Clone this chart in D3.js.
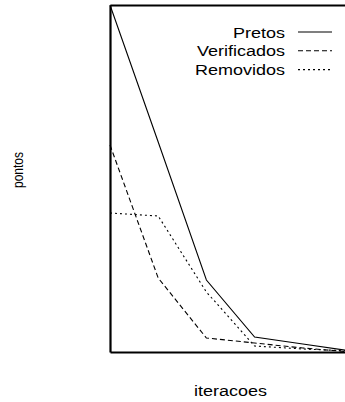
<!DOCTYPE html>
<html>
<head>
<meta charset="utf-8">
<script src="https://cdn.jsdelivr.net/npm/d3@7"></script>
<style>
  html, body { margin: 0; padding: 0; background: #fff; }
  svg { display: block; }
  text { font-family: "Liberation Sans", Arial, Helvetica, sans-serif; fill: #000; }
</style>
</head>
<body>
<svg id="chart" width="345" height="402"></svg>
<script>
const iteracoes = [0, 1, 2, 3, 4, 5];
const pretos = [347, 210, 72, 15, 8, 1];
const verificados = [207, 74, 14, 9, 4, 0];
const removidos = [139, 136, 60, 6, 3, 1];
const seriesNames = ["Pretos", "Verificados", "Removidos"];
const seriesValues = [pretos, verificados, removidos];
const dashes = [null, "5,3", "2,3"];
const yMax = 347;

const svg = d3.select("#chart");
const plotLeft = 110, plotTop = 5, plotRight = 351, plotBottom = 352;

const x = d3.scaleLinear().domain([0, 5]).range([plotLeft, plotRight]);
const y = d3.scaleLinear().domain([0, yMax]).range([plotBottom, plotTop]);

const line = d3.line()
  .x((d, i) => x(iteracoes[i]))
  .y(d => y(d));

seriesValues.forEach((vals, k) => {
  svg.append("path")
    .datum(vals)
    .attr("d", line)
    .attr("fill", "none")
    .attr("stroke", "#000")
    .attr("stroke-width", 1.1)
    .attr("stroke-dasharray", dashes[k]);
});

// border (left, top, bottom; right border lies outside the cropped view)
svg.append("g")
  .attr("transform", `translate(0,${plotBottom})`)
  .call(d3.axisBottom(x).tickValues([]).tickSizeOuter(0))
  .call(g => g.select(".domain").attr("stroke-width", 2));
svg.append("g")
  .attr("transform", `translate(${plotLeft},0)`)
  .call(d3.axisLeft(y).tickValues([]).tickSizeOuter(0))
  .call(g => g.select(".domain").attr("stroke-width", 2.2));
svg.append("g")
  .attr("transform", `translate(0,${plotTop})`)
  .call(d3.axisTop(x).tickValues([]).tickSizeOuter(0))
  .call(g => g.select(".domain").attr("stroke-width", 2));

// legend
const legend = svg.append("g");
seriesNames.forEach((name, k) => {
  const by = 37.5 + k * 18.8;
  legend.append("text")
    .attr("transform", `translate(285,${by}) scale(1.2,1)`)
    .attr("text-anchor", "end")
    .attr("font-size", 15)
    .text(name);
  legend.append("line")
    .attr("x1", 298).attr("x2", 332)
    .attr("y1", by - 5.5).attr("y2", by - 5.5)
    .attr("stroke", "#000")
    .attr("stroke-width", 1.1)
    .attr("stroke-dasharray", dashes[k]);
});

// axis titles
svg.append("text")
  .attr("transform", `translate(230.5,396) scale(1.2,1)`)
  .attr("text-anchor", "middle")
  .attr("font-size", 15)
  .text("iteracoes");

svg.append("text")
  .attr("transform", `translate(22.5,170) scale(1.2,1) rotate(-90)`)
  .attr("text-anchor", "middle")
  .attr("font-size", 12)
  .text("pontos");
</script>
</body>
</html>
